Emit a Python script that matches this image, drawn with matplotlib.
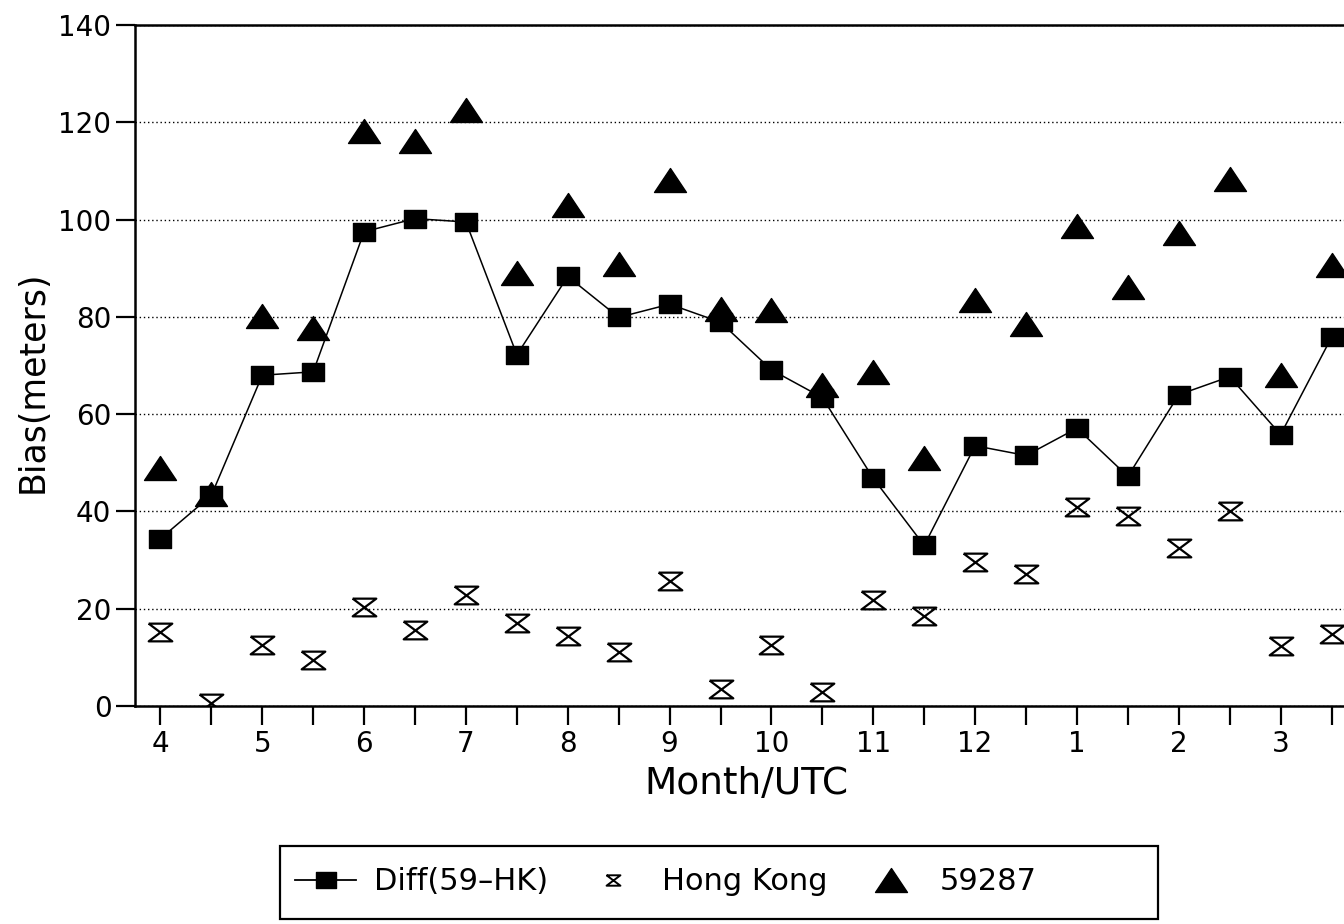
import numpy as np
import matplotlib
matplotlib.use('Agg')
import matplotlib.pyplot as plt
from matplotlib.path import Path
from matplotlib.lines import Line2D
from matplotlib.patches import Rectangle

# Month labels (every second position is a half-month / second UTC run)
months = ['4', '5', '6', '7', '8', '9', '10', '11', '12', '1', '2', '3']

# Bias values, 24 points (two per month)
diff_59_hk = [34.4, 43.3, 68.0, 68.7, 97.5, 100.2, 99.5, 72.2, 88.3, 79.9, 82.6, 78.9,
              69.1, 63.4, 46.8, 33.0, 53.5, 51.5, 57.1, 47.2, 64.0, 67.7, 55.8, 75.8]
hong_kong = [15.2, 0.6, 12.5, 9.4, 20.4, 15.7, 22.9, 17.0, 14.4, 11.2, 25.6, 3.5,
             12.5, 2.9, 21.7, 18.4, 29.7, 27.1, 41.0, 39.1, 32.5, 40.0, 12.4, 14.8]
st_59287 = [49.0, 43.5, 80.2, 77.8, 118.3, 116.1, 122.6, 89.0, 102.9, 90.8, 108.1, 81.6,
            81.4, 66.0, 68.7, 51.0, 83.5, 78.5, 98.6, 86.1, 97.2, 108.4, 68.0, 90.6]

x = np.arange(len(diff_59_hk))

# custom markers
hourglass = Path([(-1, 0.75), (1, 0.75), (-1, -0.75), (1, -0.75), (-1, 0.75)],
                 [Path.MOVETO, Path.LINETO, Path.LINETO, Path.LINETO, Path.LINETO])
wide_tri = Path([(0, 0.75), (-1, -0.75), (1, -0.75), (0, 0.75)],
                [Path.MOVETO, Path.LINETO, Path.LINETO, Path.CLOSEPOLY])
box = Path([(-1, -0.8), (1, -0.8), (1, 0.8), (-1, 0.8), (-1, -0.8)],
           [Path.MOVETO, Path.LINETO, Path.LINETO, Path.LINETO, Path.CLOSEPOLY])

fig = plt.figure(figsize=(13.44, 9.24), dpi=100)
ax = fig.add_axes([135 / 1344, 218 / 924, 1222 / 1344, 681 / 924])

ax.plot(x, st_59287, linestyle='none', marker=wide_tri, markersize=23,
        color='black', zorder=3)
ax.plot(x, hong_kong, linestyle='none', marker=hourglass, markersize=17,
        markerfacecolor='none', markeredgecolor='black', markeredgewidth=1.6, zorder=3)
ax.plot(x, diff_59_hk, color='black', linewidth=1.1, marker=box, markersize=16,
        zorder=4)

ax.set_xlim(-0.5, 23.5)
ax.set_ylim(0, 140)
ax.set_yticks(np.arange(0, 141, 20))
ax.set_xticks(x)
ax.set_xticklabels([months[i // 2] if i % 2 == 0 else '' for i in x])
ax.yaxis.grid(True, linestyle=(0, (1, 2)), color='black', linewidth=1.0)
ax.set_axisbelow(True)

for side in ['left', 'bottom', 'top', 'right']:
    ax.spines[side].set_linewidth(1.8)
ax.tick_params(axis='both', direction='out', length=14, width=1.6,
               labelsize=20, colors='black')
ax.tick_params(axis='x', pad=3)
ax.tick_params(axis='y', pad=3)

ax.set_xlabel('Month/UTC', fontsize=27, labelpad=6)
ax.set_ylabel('Bias(meters)', fontsize=25)
ax.yaxis.set_label_coords(-0.07, 0.476)

# legend: entries without frame, box drawn separately
handles = [
    Line2D([], [], color='black', linewidth=1.3, marker=box, markersize=14),
    Line2D([], [], linestyle='none', marker=hourglass, markersize=10,
           markerfacecolor='none', markeredgecolor='black', markeredgewidth=1.4),
    Line2D([], [], linestyle='none', marker=wide_tri, markersize=23, color='black'),
]
labels = ['Diff(59\u2013HK)', 'Hong Kong', '59287']
fig.legend(handles, labels, loc='center left', ncol=3,
           bbox_to_anchor=(295 / 1344, 1 - 882 / 924),
           fontsize=22, frameon=False, handlelength=2.0, handletextpad=0.6,
           columnspacing=1.1, borderpad=0, borderaxespad=0)
fig.add_artist(Rectangle((280 / 1344, 1 - 919 / 924), 878 / 1344, 73 / 924,
                         transform=fig.transFigure, fill=False,
                         edgecolor='black', linewidth=1.6))

fig.savefig('out.png', dpi=100)
